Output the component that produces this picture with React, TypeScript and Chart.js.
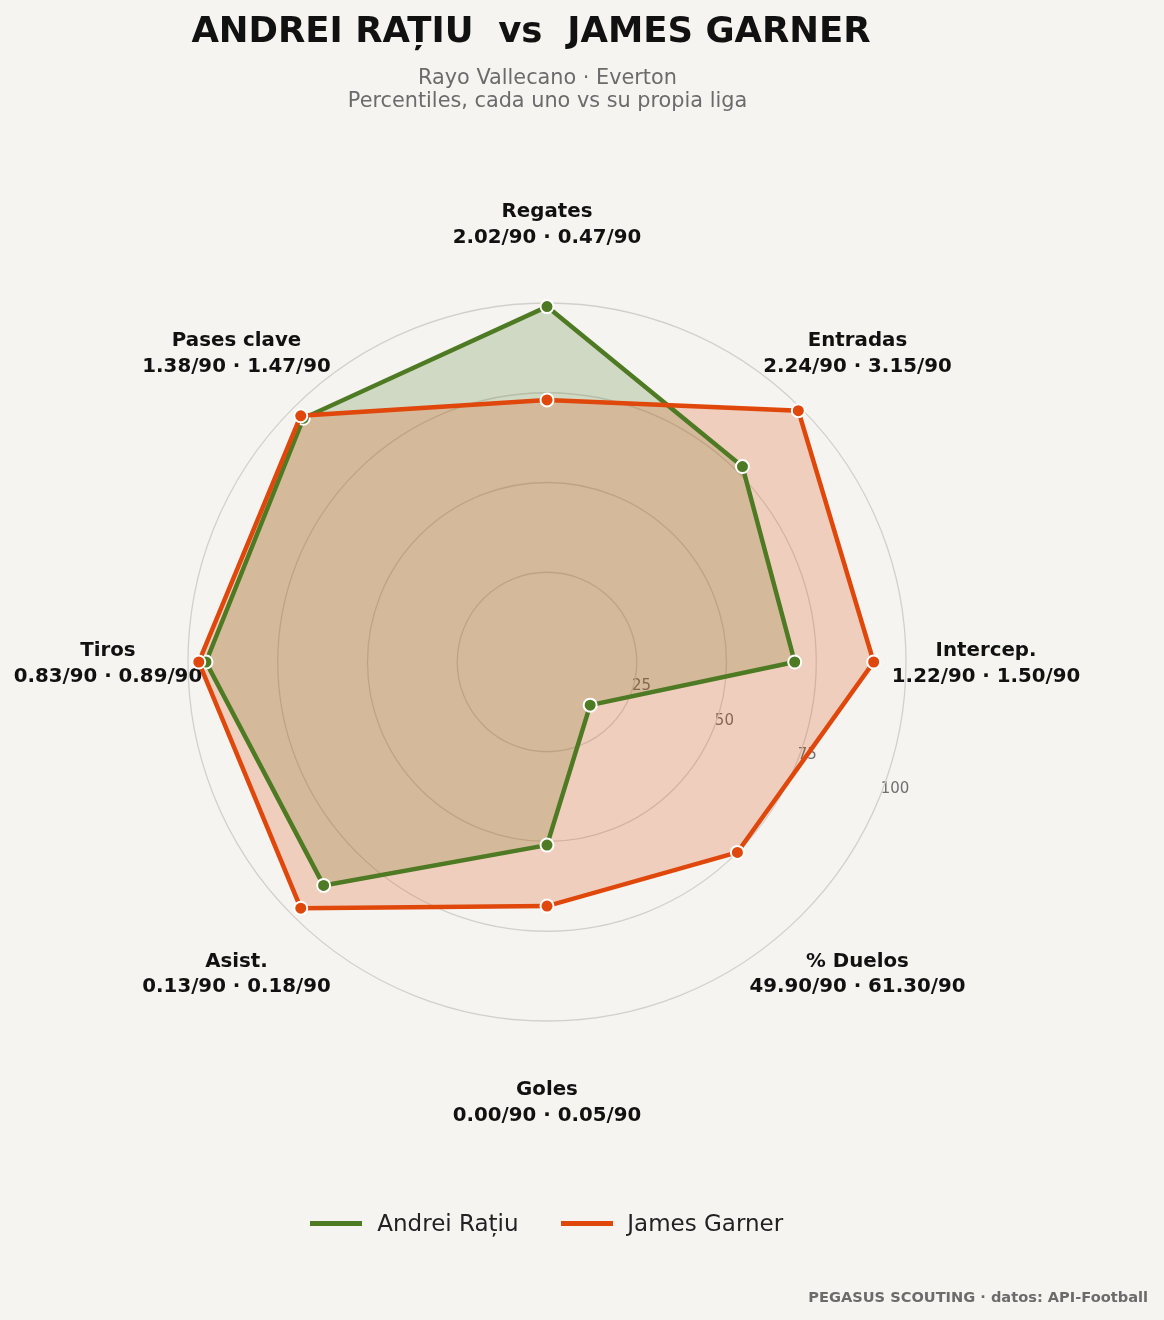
import React, { useEffect, useRef } from 'react';
import { Chart, registerables } from 'chart.js';

Chart.register(...registerables);

// ---------- data ----------
const categories = ['Regates', 'Entradas', 'Intercep.', '% Duelos', 'Goles', 'Asist.', 'Tiros', 'Pases clave'];
const playerNames = ['Andrei Rațiu', 'James Garner'];
const clubNames = ['Rayo Vallecano', 'Everton'];
const ratiuPercentiles = [99, 77, 69, 17, 51, 88, 95, 96];
const garnerPercentiles = [73, 99, 91, 75, 68, 97, 97, 97];
const ratiuPer90 = [2.02, 2.24, 1.22, 49.9, 0.0, 0.13, 0.83, 1.38];
const garnerPer90 = [0.47, 3.15, 1.5, 61.3, 0.05, 0.18, 0.89, 1.47];
const tickValues = [25, 50, 75, 100];

// ---------- style ----------
const BG = '#f5f4f0';
const GREEN = '#4e7a24';
const ORANGE = '#e0470b';
const GREEN_FILL = 'rgba(78,122,36,0.22)';
const ORANGE_FILL = 'rgba(224,71,11,0.22)';
const FONT = '"DejaVu Sans", "Liberation Sans", sans-serif';
const LABEL_VALUE = 122.3;

const textPlugin = {
  id: 'radarTexts',
  beforeDraw(chart: any) {
    const r = chart.scales.r;
    const ctx = chart.ctx as CanvasRenderingContext2D;
    ctx.save();
    // radial tick labels (left-aligned, along 22.5° below the horizontal)
    ctx.font = `15px ${FONT}`;
    ctx.fillStyle = '#6f6f6f';
    ctx.textAlign = 'left';
    ctx.textBaseline = 'middle';
    const ang = (22.5 * Math.PI) / 180;
    tickValues.forEach((v) => {
      const d = r.getDistanceFromCenterForValue(v);
      ctx.fillText(String(v), r.xCenter + d * Math.cos(ang) + 2, r.yCenter + d * Math.sin(ang) - 10);
    });
    // category labels
    const F = 19.8;
    const gap = 25.6;
    const ch = 0.729 * F;
    const dist = r.getDistanceFromCenterForValue(LABEL_VALUE);
    ctx.fillStyle = '#111111';
    ctx.font = `bold ${F}px ${FONT}`;
    ctx.textAlign = 'center';
    ctx.textBaseline = 'alphabetic';
    categories.forEach((c, i) => {
      const p = r.getPointPosition(i, dist);
      const b1 = p.y - (gap - ch) / 2;
      const line2 = `${ratiuPer90[i].toFixed(2)}/90 · ${garnerPer90[i].toFixed(2)}/90`;
      ctx.fillText(c, p.x, b1);
      ctx.fillText(line2, p.x, b1 + gap);
    });
    ctx.restore();
  },
};

function RadarChart() {
  const ref = useRef<HTMLCanvasElement | null>(null);
  useEffect(() => {
    if (!ref.current) return;
    const chart = new Chart(ref.current, {
      type: 'radar',
      data: {
        labels: categories,
        datasets: [
          {
            label: playerNames[0],
            data: ratiuPercentiles,
            borderColor: GREEN,
            backgroundColor: GREEN_FILL,
            borderWidth: 4.5,
            fill: true,
            pointRadius: 6.5,
            pointBorderWidth: 2,
            pointBackgroundColor: GREEN,
            pointBorderColor: '#ffffff',
            order: 1,
          },
          {
            label: playerNames[1],
            data: garnerPercentiles,
            borderColor: ORANGE,
            backgroundColor: ORANGE_FILL,
            borderWidth: 4.5,
            fill: true,
            pointRadius: 6.5,
            pointBorderWidth: 2,
            pointBackgroundColor: ORANGE,
            pointBorderColor: '#ffffff',
            order: 0,
          },
        ],
      },
      options: {
        responsive: false,
        animation: false,
        layout: { padding: { left: 188, right: 258, top: 303, bottom: 299 } },
        plugins: {
          legend: { display: false },
          tooltip: { enabled: false },
          title: { display: false },
          filler: { drawTime: 'beforeDatasetsDraw' },
        },
        elements: { line: { tension: 0 } },
        scales: {
          r: {
            min: 0,
            max: 100,
            startAngle: 0,
            ticks: { display: false, stepSize: 25 },
            grid: { circular: true, color: '#d3d0cb', lineWidth: 1.3 },
            angleLines: { display: false },
            pointLabels: { display: false },
          },
        },
      },
      plugins: [textPlugin],
    } as any);
    return () => chart.destroy();
  }, []);
  return (
    <canvas
      ref={ref}
      width={1164}
      height={1320}
      style={{ position: 'absolute', left: 0, top: 0, width: 1164, height: 1320 }}
    />
  );
}

export default function App() {
  const title = `${playerNames[0].toUpperCase()}  vs  ${playerNames[1].toUpperCase()}`;
  return (
    <div
      style={{
        position: 'absolute',
        left: 0,
        top: 0,
        width: 1164,
        height: 1320,
        background: BG,
        overflow: 'hidden',
        fontFamily: FONT,
      }}
    >
      <RadarChart />
      <div
        style={{
          position: 'absolute',
          left: 0,
          top: 9.8,
          width: 1062,
          textAlign: 'center',
          fontSize: 35.5,
          lineHeight: '40px',
          fontWeight: 'bold',
          color: '#111111',
          whiteSpace: 'pre',
        }}
      >
        {title}
      </div>
      <div
        style={{
          position: 'absolute',
          left: 0,
          top: 66,
          width: 1095,
          textAlign: 'center',
          fontSize: 20.8,
          lineHeight: '22.8px',
          color: '#6b6b6b',
        }}
      >
        <div>{`${clubNames[0]} · ${clubNames[1]}`}</div>
        <div>Percentiles, cada uno vs su propia liga</div>
      </div>
      {/* legend */}
      <div style={{ position: 'absolute', left: 309.5, top: 1220.8, width: 52, height: 5, background: GREEN }} />
      <div
        style={{ position: 'absolute', left: 377.3, top: 1208.3, fontSize: 23, lineHeight: '30px', color: '#222222', whiteSpace: 'pre' }}
      >
        {playerNames[0]}
      </div>
      <div style={{ position: 'absolute', left: 560.7, top: 1220.8, width: 52, height: 5, background: ORANGE }} />
      <div
        style={{ position: 'absolute', left: 627.3, top: 1208.3, fontSize: 23, lineHeight: '30px', color: '#222222', whiteSpace: 'pre' }}
      >
        {playerNames[1]}
      </div>
      {/* footer */}
      <div
        style={{
          position: 'absolute',
          right: 16,
          top: 1287,
          fontSize: 14.6,
          lineHeight: '20px',
          fontWeight: 'bold',
          color: '#6b6b6b',
          whiteSpace: 'pre',
        }}
      >
        PEGASUS SCOUTING · datos: API-Football
      </div>
    </div>
  );
}
